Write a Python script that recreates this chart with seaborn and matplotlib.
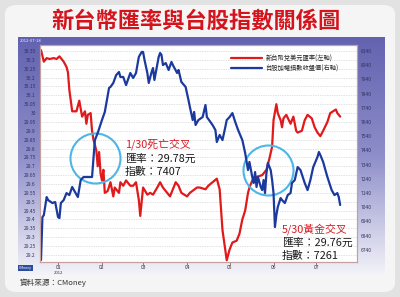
import numpy as np
import pandas as pd
import seaborn as sns
import matplotlib.pyplot as plt
import matplotlib.dates as mdates

from matplotlib.ticker import FuncFormatter
from matplotlib.patches import FancyBboxPatch
from matplotlib.colors import LinearSegmentedColormap


# --- Daten
red_dates = [
    "2011-12-20", "2011-12-22", "2011-12-24", "2011-12-26", "2011-12-29", "2011-12-31",
    "2012-01-02", "2012-01-04", "2012-01-05", "2012-01-07", "2012-01-08", "2012-01-09",
    "2012-01-11", "2012-01-13", "2012-01-14", "2012-01-16", "2012-01-18", "2012-01-20",
    "2012-01-21", "2012-01-22", "2012-01-24", "2012-01-25", "2012-01-26", "2012-01-28",
    "2012-01-29", "2012-01-30", "2012-01-31", "2012-02-01", "2012-02-02", "2012-02-03",
    "2012-02-05", "2012-02-07", "2012-02-09", "2012-02-10", "2012-02-13", "2012-02-14",
    "2012-02-16", "2012-02-18", "2012-02-21", "2012-02-23", "2012-02-25", "2012-02-27",
    "2012-02-28", "2012-03-01", "2012-03-04", "2012-03-06", "2012-03-08", "2012-03-11",
    "2012-03-13", "2012-03-15", "2012-03-18", "2012-03-20", "2012-03-21", "2012-03-24",
    "2012-03-26", "2012-03-28", "2012-04-01", "2012-04-03", "2012-04-08", "2012-04-10",
    "2012-04-14", "2012-04-16", "2012-04-19", "2012-04-22", "2012-04-24", "2012-04-26",
    "2012-04-29", "2012-05-01", "2012-05-03", "2012-05-06", "2012-05-08", "2012-05-10",
    "2012-05-12", "2012-05-14", "2012-05-15", "2012-05-17", "2012-05-20", "2012-05-24",
    "2012-05-27", "2012-05-29", "2012-05-31", "2012-06-01", "2012-06-03", "2012-06-04",
    "2012-06-06", "2012-06-07", "2012-06-08", "2012-06-10", "2012-06-13", "2012-06-15",
    "2012-06-17", "2012-06-18", "2012-06-21", "2012-06-23", "2012-06-25", "2012-06-28",
    "2012-06-30", "2012-07-02", "2012-07-04", "2012-07-06", "2012-07-09", "2012-07-11",
    "2012-07-13", "2012-07-15", "2012-07-16", "2012-07-18"]
red_rate = [
    30.355, 30.29, 30.31, 30.305, 30.31, 30.305,
    30.32, 30.30, 30.29, 30.26, 30.23, 30.13,
    30.01, 30.01, 30.01, 30.07, 29.98, 30.01,
    29.94, 29.99, 30.00, 29.90, 29.85, 29.79,
    29.70, 29.78, 29.66, 29.62, 29.68, 29.55,
    29.56, 29.61, 29.53, 29.58, 29.55, 29.61,
    29.59, 29.62, 29.59, 29.59, 29.61, 29.51,
    29.42, 29.58, 29.54, 29.55, 29.54, 29.58,
    29.61, 29.58, 29.55, 29.53, 29.55, 29.61,
    29.59, 29.55, 29.53, 29.55, 29.58, 29.58,
    29.57, 29.59, 29.61, 29.63, 29.57, 29.34,
    29.17, 29.23, 29.27, 29.28, 29.32, 29.40,
    29.45, 29.55, 29.58, 29.62, 29.64, 29.65,
    29.68, 29.74, 29.81, 29.96, 30.05, 30.00,
    29.96, 29.92, 29.97, 29.99, 29.94, 29.98,
    29.90, 29.89, 29.90, 29.96, 29.99, 29.97,
    29.92, 29.89, 29.87, 29.90, 29.95, 30.00,
    30.01, 30.02, 30.00, 29.98]

blue_dates = [
    "2011-12-20", "2011-12-21", "2011-12-22", "2011-12-24", "2011-12-25", "2011-12-28",
    "2011-12-30", "2012-01-01", "2012-01-02", "2012-01-03", "2012-01-05", "2012-01-07",
    "2012-01-09", "2012-01-11", "2012-01-13", "2012-01-15", "2012-01-17", "2012-01-19",
    "2012-01-21", "2012-01-23", "2012-01-25", "2012-01-27", "2012-01-29", "2012-02-01",
    "2012-02-03", "2012-02-06", "2012-02-07", "2012-02-09", "2012-02-11", "2012-02-13",
    "2012-02-14", "2012-02-16", "2012-02-18", "2012-02-21", "2012-02-23", "2012-02-25",
    "2012-02-27", "2012-02-29", "2012-03-01", "2012-03-02", "2012-03-04", "2012-03-05",
    "2012-03-07", "2012-03-08", "2012-03-09", "2012-03-12", "2012-03-13", "2012-03-14",
    "2012-03-15", "2012-03-17", "2012-03-19", "2012-03-21", "2012-03-22", "2012-03-25",
    "2012-03-26", "2012-03-28", "2012-03-31", "2012-04-02", "2012-04-03", "2012-04-05",
    "2012-04-06", "2012-04-07", "2012-04-09", "2012-04-12", "2012-04-14", "2012-04-15",
    "2012-04-19", "2012-04-21", "2012-04-22", "2012-04-24", "2012-04-26", "2012-04-28",
    "2012-04-29", "2012-05-01", "2012-05-03", "2012-05-05", "2012-05-07", "2012-05-10",
    "2012-05-12", "2012-05-14", "2012-05-15", "2012-05-17", "2012-05-18", "2012-05-19",
    "2012-05-20", "2012-05-21", "2012-05-23", "2012-05-24", "2012-05-25", "2012-05-26",
    "2012-05-27", "2012-05-28", "2012-05-30", "2012-05-31", "2012-06-01", "2012-06-02",
    "2012-06-03", "2012-06-04", "2012-06-06", "2012-06-07", "2012-06-09", "2012-06-11",
    "2012-06-13", "2012-06-14", "2012-06-16", "2012-06-18", "2012-06-20", "2012-06-23",
    "2012-06-25", "2012-06-27", "2012-06-29", "2012-07-02", "2012-07-03", "2012-07-04",
    "2012-07-06", "2012-07-07", "2012-07-09", "2012-07-12", "2012-07-14", "2012-07-16",
    "2012-07-17", "2012-07-18"]
blue_index = [
    6669, 6971, 6985, 7112, 7091, 7070,
    7077, 6971, 6964, 7070, 7091, 7140,
    7126, 7183, 7147, 7112, 7232, 7253,
    7253, 7253, 7253, 7513, 7563, 7654,
    7711, 7880, 7887, 7915, 7970, 7992,
    7957, 7957, 7900, 7985, 7950, 7985,
    8098, 8133, 8133, 8077, 7985, 7915,
    7992, 8020, 7936, 8098, 8126, 8112,
    8041, 8055, 8006, 8063, 8041, 7985,
    8006, 7922, 7887, 7795, 7746, 7654,
    7711, 7619, 7654, 7675, 7760, 7675,
    7619, 7584, 7499, 7549, 7513, 7605,
    7654, 7675, 7703, 7640, 7584, 7513,
    7422, 7302, 7359, 7253, 7211, 7288,
    7183, 7253, 7183, 7161, 7232, 7140,
    7281, 7352, 7302, 7232, 7140, 6901,
    6985, 7042, 7105, 7091, 7070, 7126,
    7140, 7211, 7232, 7323, 7302, 7211,
    7161, 7232, 7323, 7394, 7429, 7408,
    7359, 7323, 7253, 7161, 7126, 7140,
    7112, 7056]

red_label = "新台幣兌美元匯率(左軸)"
blue_label = "台股加權指數收盤價(右軸)"

df_red = pd.DataFrame({"date": pd.to_datetime(red_dates), "rate": red_rate})
df_blue = pd.DataFrame({"date": pd.to_datetime(blue_dates), "index": blue_index})


def px(x, y):
    # Pixel (400x297, y von oben) -> Figure-Koordinaten
    return x / 400, 1 - y / 297


sns.set_style("white")
plt.rcParams["font.family"] = ["Noto Sans CJK TC", "DejaVu Sans"]

fig = plt.figure(figsize=(4, 2.97), dpi=100)
fig.patch.set_facecolor("#e2e2e2")
fig.patches.append(FancyBboxPatch((5 / 400, 5 / 297), 390 / 400, 287 / 297,
                                  boxstyle="round,pad=0,rounding_size=0.03",
                                  transform=fig.transFigure, fc="#f5f5f5", ec="none",
                                  zorder=-5))

# blauer Hintergrund mit Verlauf
bg = fig.add_axes([18 / 400, 1 - 275 / 297, 367 / 400, (275 - 37) / 297])
cmap = LinearSegmentedColormap.from_list("panel", ["#6262b0", "#8e8eca", "#f3f3f9"])
bg.imshow(np.linspace(0, 1, 256).reshape(-1, 1), aspect="auto", cmap=cmap, extent=[0, 1, 0, 1])
bg.axis("off")

ax = fig.add_axes([40 / 400, 1 - 262 / 297, 317 / 400, 217 / 297])
ax.set_facecolor("white")
sns.lineplot(data=df_red, x="date", y="rate", ax=ax, color="#e01a1a", lw=1.6, label=red_label)
ax2 = ax.twinx()
sns.lineplot(data=df_blue, x="date", y="index", ax=ax2, color="#1c3a9e", lw=1.6, label=blue_label)

ax.set_xlim(pd.Timestamp("2011-12-19 07:00"), pd.Timestamp("2012-07-29 21:00"))
ax.set_ylim(29.16, 30.384)
ax2.set_ylim(6655, 8182)

ax.set_yticks(np.round(np.arange(29.2, 30.36, 0.05), 2))
ax.yaxis.set_major_formatter(FuncFormatter(lambda v, p: f"{v:g}"))
ax2.set_yticks(np.arange(6740, 8141, 100))
ax.xaxis.set_major_locator(mdates.MonthLocator())
ax.xaxis.set_major_formatter(mdates.DateFormatter("%m"))

for a in (ax, ax2):
    a.set_xlabel("")
    a.set_ylabel("")
    for s in a.spines.values():
        s.set_color("#c4a0a0")
        s.set_linewidth(0.8)
ax.tick_params(axis="y", labelsize=3.5, length=0, pad=3, labelcolor="#303060")
ax2.tick_params(axis="y", labelsize=3.5, length=0, pad=3, labelcolor="#303060")
ax.tick_params(axis="x", labelsize=3.5, length=2, width=0.6, color="#a06060",
               pad=0.5, labelcolor="#303030", bottom=True)
ax.grid(True, axis="y", color="#c4c4c4", ls=(0, (1, 1.5)), lw=0.5)

# Legende
h1 = ax.get_lines()[0]
h2 = ax2.get_lines()[0]
ax.get_legend().remove()
ax2.get_legend().remove()
fig.legend([h1, h2], [red_label, blue_label], loc="upper left",
           bbox_to_anchor=px(225, 49), frameon=False, fontsize=4.5,
           handlelength=5, handletextpad=0.6, labelspacing=0.25)

# Kreise an den Kreuzungspunkten
ax.plot(pd.Timestamp("2012-01-27"), 29.747, marker="o", ms=36, mfc="none",
        mec="#4cb6e6", mew=1.5, zorder=5)
ax.plot(pd.Timestamp("2012-05-28"), 29.68, marker="o", ms=36, mfc="none",
        mec="#4cb6e6", mew=1.5, zorder=5)

# Beschriftungen
fig.text(*px(196, 21), "新台幣匯率與台股指數關係圖", fontsize=16, color="#d4141c",
         weight="bold", ha="center", va="center")
fig.text(*px(20, 41), "2012-07-18", fontsize=3, color="#eeeeff", va="center")

note = dict(fontsize=7.8, va="center", ha="left", weight="medium")
fig.text(*px(125, 144), "1/30死亡交叉", color="#d81a22", **note)
fig.text(*px(125, 159), "匯率：29.78元", color="#1a1a1a", **note)
fig.text(*px(125, 172), "指數：7407", color="#1a1a1a", **note)
fig.text(*px(282, 229), "5/30黃金交叉", color="#d81a22", **note)
fig.text(*px(282, 243), "匯率：29.76元", color="#1a1a1a", **note)
fig.text(*px(282, 256), "指數：7261", color="#1a1a1a", **note)

fig.text(*px(58, 273), "2012", fontsize=3, color="#303030", ha="center", va="center")
fig.text(*px(19, 268), "CMoney", fontsize=2.5, color="white", va="center",
         bbox=dict(fc="#2c4c9c", ec="none", pad=0.6))
fig.text(*px(20, 283), "資料來源：CMoney", fontsize=5.5, color="#333333", va="center")

fig.savefig("out.png", dpi=100, facecolor=fig.get_facecolor())
